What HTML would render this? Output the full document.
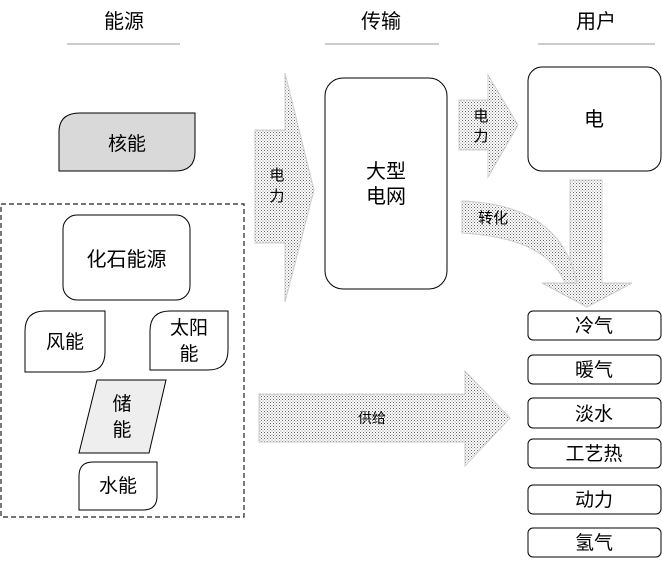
<!DOCTYPE html>
<html><head><meta charset="utf-8"><style>
html,body{margin:0;padding:0;background:#fff;}
svg{display:block;}
text{font-family:"Liberation Sans","Noto Sans CJK SC",sans-serif;fill:#000;}
</style></head><body>
<svg width="662" height="569" viewBox="0 0 662 569" xmlns="http://www.w3.org/2000/svg">
<defs>
<pattern id="dots" width="3" height="3" patternUnits="userSpaceOnUse">
<rect width="3" height="3" fill="#fff"/>
<rect x="0" y="0" width="1" height="1" fill="#666"/>
<rect x="1.5" y="1.5" width="1" height="1" fill="#888"/>
</pattern>
</defs>
<text x="124" y="28" font-size="20" text-anchor="middle">能源</text>
<text x="381" y="28" font-size="20" text-anchor="middle">传输</text>
<text x="596" y="28" font-size="20" text-anchor="middle">用户</text>
<line x1="67" y1="44" x2="180" y2="44" stroke="#999" stroke-width="1"/>
<line x1="325" y1="44" x2="439" y2="44" stroke="#999" stroke-width="1"/>
<line x1="538" y1="44" x2="655" y2="44" stroke="#999" stroke-width="1"/>

<path d="M255,130 H285 V73 L314,190 L285,302 V243 H255 Z" fill="url(#dots)" stroke="#ccc" stroke-width="1"/>
<text x="277" y="180" font-size="15" text-anchor="middle">电</text>
<text x="277" y="201" font-size="15" text-anchor="middle">力</text>

<path d="M459,100 H488 V75 L518,125 L488,177 V150 H459 Z" fill="url(#dots)" stroke="#ccc" stroke-width="1"/>
<text x="481" y="121" font-size="15" text-anchor="middle">电</text>
<text x="481" y="141" font-size="15" text-anchor="middle">力</text>

<path d="M570,180 H602 V283 H632 L587,307 L542,283 H570 Z" fill="url(#dots)" stroke="#ccc" stroke-width="1"/>
<path d="M462,201 C520,203 565,225 577,283 L565,283 C550,248 510,236 462,233 Z" fill="url(#dots)" stroke="#ccc" stroke-width="1"/>
<text x="493" y="223" font-size="15" text-anchor="middle">转化</text>

<path d="M259,394 H465 V371 L510,418 L465,466 V442 H259 Z" fill="url(#dots)" stroke="#ccc" stroke-width="1"/>
<text x="372" y="423" font-size="14" text-anchor="middle">供给</text>

<path d="M59,171 V132 Q59,113 80,113 H195 V152 Q195,171 175,171 Z" fill="#d9d9d9" stroke="#000" stroke-width="1"/>
<text x="127" y="150" font-size="19" text-anchor="middle">核能</text>

<rect x="1" y="204" width="243" height="313" fill="none" stroke="#222" stroke-width="1.2" stroke-dasharray="5,3"/>
<rect x="63" y="215" width="127" height="85" rx="14" fill="#fff" stroke="#000"/>
<text x="126.5" y="266" font-size="20" text-anchor="middle">化石能源</text>

<path d="M25,372 V331 Q25,311 45,311 H105 V352 Q105,372 85,372 Z" fill="#fff" stroke="#000"/>
<text x="65" y="348" font-size="19" text-anchor="middle">风能</text>

<path d="M150,370 V331 Q150,311 170,311 H228 V350 Q228,370 208,370 Z" fill="#fff" stroke="#000"/>
<text x="189" y="334" font-size="19" text-anchor="middle">太阳</text>
<text x="189" y="360" font-size="19" text-anchor="middle">能</text>

<path d="M97,380 H166 L149,453 H79 Z" fill="#eee" stroke="#000"/>
<text x="122" y="410" font-size="19" text-anchor="middle">储</text>
<text x="122" y="436" font-size="19" text-anchor="middle">能</text>

<path d="M79,510 V476 Q79,462 93,462 H157 V496 Q157,510 143,510 Z" fill="#fff" stroke="#000"/>
<text x="118" y="492" font-size="19" text-anchor="middle">水能</text>

<rect x="325" y="78" width="122" height="211" rx="18" fill="#fff" stroke="#000"/>
<text x="386" y="178" font-size="20" text-anchor="middle">大型</text>
<text x="386" y="203" font-size="20" text-anchor="middle">电网</text>

<rect x="528" y="67" width="133" height="104" rx="14" fill="#fff" stroke="#000"/>
<text x="594" y="126" font-size="20" text-anchor="middle">电</text>

<g font-size="19">
<rect x="528" y="311" width="133" height="29" rx="5" fill="#fff" stroke="#000"/>
<text x="594" y="332" text-anchor="middle">冷气</text>
<rect x="528" y="355" width="133" height="29" rx="5" fill="#fff" stroke="#000"/>
<text x="594" y="376" text-anchor="middle">暖气</text>
<rect x="528" y="398" width="133" height="30" rx="5" fill="#fff" stroke="#000"/>
<text x="594" y="420" text-anchor="middle">淡水</text>
<rect x="528" y="439" width="133" height="29" rx="5" fill="#fff" stroke="#000"/>
<text x="594" y="460" text-anchor="middle">工艺热</text>
<rect x="528" y="485" width="133" height="29" rx="5" fill="#fff" stroke="#000"/>
<text x="594" y="506" text-anchor="middle">动力</text>
<rect x="528" y="528" width="133" height="29" rx="5" fill="#fff" stroke="#000"/>
<text x="594" y="549" text-anchor="middle">氢气</text>
</g>
</svg>
</body></html>
